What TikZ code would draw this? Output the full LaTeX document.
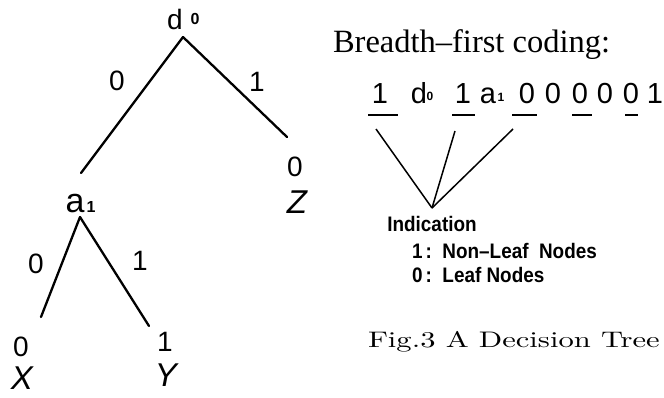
\documentclass[tikz,border=0pt]{standalone}
\usepackage{fontspec}
\newfontfamily\sansf{Liberation Sans}
\newfontfamily\seriff{Liberation Serif}
\newfontfamily\capf{lmroman10-regular}[Extension=.otf, FakeStretch=1.36]
\begin{document}
\begin{tikzpicture}[x=1pt,y=-1pt,
  every node/.style={inner sep=0pt, outer sep=0pt},
  treelbl/.style={font=\sansf\fontsize{28}{28}\selectfont},
  leafname/.style={font=\sansf\itshape\fontsize{33}{33}\selectfont},
  subs/.style={font=\sansf\bfseries\fontsize{16}{16}\selectfont},
  codech/.style={anchor=base, font=\sansf\fontsize{29}{29}\selectfont},
  codesub/.style={font=\sansf\bfseries\fontsize{12}{12}\selectfont},
  indic/.style={font=\sansf\bfseries\fontsize{21}{21}\selectfont},
  branch/.style={line width=2.3pt, line cap=round},
  uline/.style={line width=2pt},
  pointer/.style={line width=1.5pt}
]
\useasboundingbox (0,0) rectangle (664,397);
\fill[white] (0,0) rectangle (664,397);

% ---- tree ----
\node[font=\sansf\fontsize{28}{28}\selectfont] (dl) at (175,19) {d};
\node[subs] (ds) at (195,19) {0};
\coordinate (root) at (183,37);
\coordinate (lend) at (81,173);
\coordinate (rend) at (287,137);
\draw[branch] (root) -- (lend);
\draw[branch] (root) -- (rend);
\node[treelbl] (e0) at (117,81) {0};
\node[treelbl] (e1) at (257,82) {1};
\node[treelbl] (zv) at (295,167) {0};
\node[leafname] (zn) at (297,202) {Z};

\node[font=\sansf\fontsize{34}{34}\selectfont] (al) at (75,204) {a};
\node[subs] (as) at (91,207) {1};
\coordinate (aroot) at (80,217);
\coordinate (xend) at (41,317);
\coordinate (yend) at (149,326);
\draw[branch] (aroot) -- (xend);
\draw[branch] (aroot) -- (yend);
\node[treelbl] (f0) at (36,264) {0};
\node[treelbl] (f1) at (140,261) {1};
\node[treelbl] (xv) at (21,347) {0};
\node[leafname] (xn) at (22,378) {X};
\node[treelbl] (yv) at (165,342) {1};
\node[leafname] (yn) at (166,375) {Y};

% ---- coding ----
\node[anchor=base west, font=\seriff\fontsize{32.5}{32.5}\selectfont] (title) at (333,52) {Breadth–first coding:};

\node[codech] (c1) at (380,103) {1};
\node[codech] (c2) at (419,103) {d};
\node[codesub] (c2s) at (430,96) {0};
\node[codech] (c3) at (463,103) {1};
\node[codech] (c4) at (488,103) {a};
\node[codesub] (c4s) at (501,97) {1};
\node[codech] (c5) at (527,103) {0};
\node[codech] (c6) at (553,103) {0};
\node[codech] (c7) at (580,103) {0};
\node[codech] (c8) at (605,103) {0};
\node[codech] (c9) at (631,103) {0};
\node[codech] (c10) at (655,103) {1};

\coordinate (u1a) at (368,115); \coordinate (u1b) at (398,115);
\coordinate (u2a) at (452,115); \coordinate (u2b) at (475,115);
\coordinate (u3a) at (512,115); \coordinate (u3b) at (537,115);
\coordinate (u4a) at (572,115); \coordinate (u4b) at (592,115);
\coordinate (u5a) at (625,115); \coordinate (u5b) at (638,115);
\draw[uline] (u1a) -- (u1b);
\draw[uline] (u2a) -- (u2b);
\draw[uline] (u3a) -- (u3b);
\draw[uline] (u4a) -- (u4b);
\draw[uline] (u5a) -- (u5b);

\coordinate (apex) at (432,208);
\coordinate (p1) at (376,129);
\coordinate (p2) at (455,131);
\coordinate (p3) at (513,129);
\draw[pointer] (p1) -- (apex);
\draw[pointer] (p2) -- (apex);
\draw[pointer] (p3) -- (apex);

\node[indic] (ind) at (432,224) {\scalebox{0.9}[1]{Indication}};
\node[indic, anchor=west] (nl) at (412,251) {\scalebox{0.9}[1]{1\,:\ \ Non–Leaf\ \ Nodes}};
\node[indic, anchor=west] (lf) at (412,275) {\scalebox{0.9}[1]{0\,:\ \ Leaf Nodes}};

\node[anchor=base west, font=\capf\fontsize{22.5}{22.5}\selectfont] (cap) at (368,347) {Fig.3 A Decision Tree};
\end{tikzpicture}
\end{document}
